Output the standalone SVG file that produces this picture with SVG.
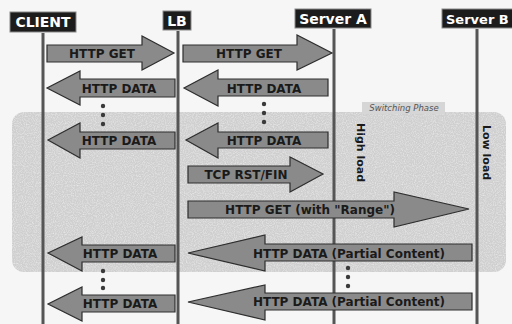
<svg xmlns="http://www.w3.org/2000/svg" width="512" height="324" viewBox="0 0 512 324">
<defs>
<filter id="grain" x="0" y="0" width="100%" height="100%">
<feTurbulence type="fractalNoise" baseFrequency="0.9" numOctaves="2" seed="3" result="n"/>
<feColorMatrix in="n" type="matrix" values="0 0 0 0 1  0 0 0 0 1  0 0 0 0 1  0 0 0 0.9 -0.35" result="w"/>
<feComposite in="w" in2="SourceGraphic" operator="in" result="wi"/>
<feMerge><feMergeNode in="SourceGraphic"/><feMergeNode in="wi"/></feMerge>
</filter>
<style>
.hdr{fill:#1c1c1c;stroke:#888;stroke-width:1}
.hdrt{fill:#fff;font-family:"DejaVu Sans",Verdana,sans-serif;font-weight:bold;font-size:14px;text-anchor:middle}
.life{stroke:#555;stroke-width:3;fill:none}
.arr{fill:#8a8a8a;stroke:#2e2e2e;stroke-width:1.2;stroke-linejoin:miter}
.lbl{fill:#1a1a1a;font-family:"DejaVu Sans",Verdana,sans-serif;font-weight:bold;font-size:12px;text-anchor:middle}
.vt{fill:#1a1a1a;font-family:"DejaVu Sans",Verdana,sans-serif;font-weight:bold;font-size:11px}
.dot{fill:#3a3a3a}
</style>
</defs>
<rect width="512" height="324" fill="#f6f6f6"/>
<g id="switching-phase">
<rect x="12" y="112" width="494" height="160" rx="12" fill="#cfcfcf" filter="url(#grain)"/>
<rect x="362" y="102" width="83" height="12" fill="#d6d6d6"/>
<text x="404" y="110.5" font-family="DejaVu Sans,sans-serif" font-style="italic" font-size="8.5px" fill="#555" text-anchor="middle">Switching Phase</text>
</g>
<g id="client">
<rect class="hdr" x="10" y="12" width="66" height="20"/>
<text class="hdrt" x="43" y="27">CLIENT</text>
<line class="life" x1="43" y1="33" x2="43" y2="324"/>
</g>
<g id="lb">
<rect class="hdr" x="163" y="11" width="28" height="19"/>
<text class="hdrt" x="177" y="26">LB</text>
<line class="life" x1="178" y1="31" x2="178" y2="324"/>
</g>
<g id="server-a">
<rect class="hdr" x="295" y="9" width="76" height="19"/>
<text class="hdrt" x="333" y="24">Server A</text>
<line class="life" x1="334" y1="29" x2="334" y2="324"/>
<text class="vt" transform="translate(357,123) rotate(90)">High load</text>
</g>
<g id="server-b">
<rect class="hdr" x="442" y="9" width="72" height="19"/>
<text class="hdrt" x="446" y="24" style="text-anchor:start;font-size:13px">Server B</text>
<line class="life" x1="477" y1="29" x2="477" y2="324"/>
<text class="vt" transform="translate(483,125) rotate(90)">Low load</text>
</g>
<g id="connectors">
<path class="arr" d="M47,45 L142,45 L142,36 L174,53 L142,70 L142,62 L47,62 Z"/>
<text class="lbl" x="102" y="58">HTTP GET</text>
<path class="arr" d="M183,45 L297,45 L297,35 L332,53 L297,70 L297,62 L183,62 Z"/>
<text class="lbl" x="249" y="58">HTTP GET</text>

<path class="arr" d="M175,79 L80,79 L80,71 L47,88 L80,105 L80,97 L175,97 Z"/>
<text class="lbl" x="119" y="93">HTTP DATA</text>
<path class="arr" d="M328,79 L218,79 L218,70 L184,88 L218,106 L218,96 L328,96 Z"/>
<text class="lbl" x="264" y="93">HTTP DATA</text>

<circle class="dot" cx="103" cy="106" r="2.2"/><circle class="dot" cx="103" cy="115" r="2.2"/><circle class="dot" cx="103" cy="124" r="2.2"/>
<circle class="dot" cx="264" cy="104" r="2.2"/><circle class="dot" cx="264" cy="113" r="2.2"/><circle class="dot" cx="264" cy="122" r="2.2"/>

<path class="arr" d="M175,132 L80,132 L80,123 L48,140 L80,158 L80,149 L175,149 Z"/>
<text class="lbl" x="119" y="145">HTTP DATA</text>
<path class="arr" d="M328,132 L218,132 L218,123 L186,140 L218,158 L218,148 L328,148 Z"/>
<text class="lbl" x="264" y="145">HTTP DATA</text>

<path class="arr" d="M188,166 L290,166 L290,157 L323,174 L290,192 L290,183 L188,183 Z"/>
<text class="lbl" x="246" y="179">TCP RST/FIN</text>

<path class="arr" d="M188,201 L394,201 L394,192 L469,209 L394,227 L394,218 L188,218 Z"/>
<text class="lbl" x="310" y="214">HTTP GET (with "Range")</text>

<path class="arr" d="M175,245 L82,245 L82,237 L48,253 L82,271 L82,262 L175,262 Z"/>
<text class="lbl" x="120" y="258">HTTP DATA</text>
<path class="arr" d="M472,244 L265,244 L265,235 L188,253 L265,271 L265,261 L472,261 Z"/>
<text class="lbl" x="349" y="258">HTTP DATA (Partial Content)</text>

<circle class="dot" cx="103" cy="271" r="2.2"/><circle class="dot" cx="103" cy="280" r="2.2"/><circle class="dot" cx="103" cy="288" r="2.2"/>
<circle class="dot" cx="348" cy="268" r="2.2"/><circle class="dot" cx="348" cy="277" r="2.2"/><circle class="dot" cx="348" cy="286" r="2.2"/>

<path class="arr" d="M175,295 L82,295 L82,287 L48,304 L82,321 L82,312 L175,312 Z"/>
<text class="lbl" x="120" y="308">HTTP DATA</text>
<path class="arr" d="M472,293 L265,293 L265,285 L188,302 L265,320 L265,310 L472,310 Z"/>
<text class="lbl" x="349" y="306">HTTP DATA (Partial Content)</text>
</g>
</svg>
